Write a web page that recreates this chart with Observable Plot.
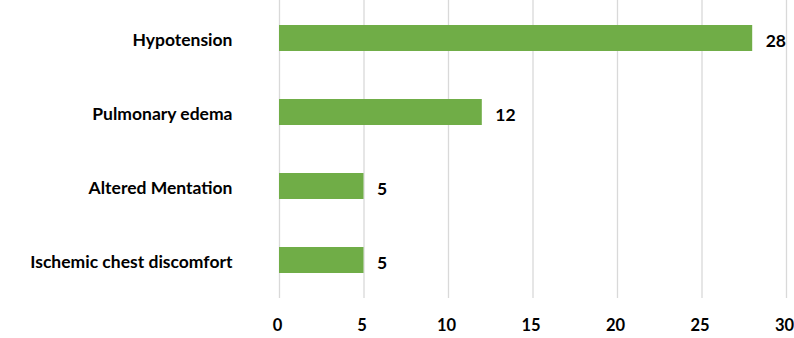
<!DOCTYPE html>
<html>
<head>
<meta charset="utf-8">
<script src="https://cdn.jsdelivr.net/npm/d3@7"></script>
<script src="https://cdn.jsdelivr.net/npm/@observablehq/plot@0.6"></script>
<style>
  html, body { margin: 0; padding: 0; background: #fff; }
  #chart svg { display: block; overflow: visible; }
</style>
</head>
<body>
<div id="chart"></div>
<script>
const categories = ["Hypotension", "Pulmonary edema", "Altered Mentation", "Ischemic chest discomfort"];
const values = [28, 12, 5, 5];
const xTicks = [0, 5, 10, 15, 20, 25, 30];

const data = categories.map((c, i) => ({category: c, value: values[i]}));

const chart = Plot.plot({
  width: 794,
  height: 338,
  marginLeft: 279,
  marginRight: 8,
  marginTop: 0,
  marginBottom: 40,
  style: {fontFamily: "Lato, 'Open Sans', sans-serif", color: "#000", background: "#fff"},
  x: {domain: [0, 30], label: null},
  y: {domain: categories, paddingInner: 0.642, paddingOuter: 0.321, label: null},
  marks: [
    Plot.ruleX(xTicks, {stroke: "#d9d9d9", strokeWidth: 1.3}),
    Plot.barX(data, {x: "value", y: "category", fill: "#70AD47"}),
    Plot.text(data, {x: "value", y: "category", text: d => String(d.value), textAnchor: "start", dx: 13, dy: 3, fontSize: 17.5, fontWeight: "bold", fill: "#000"}),
    Plot.axisX({ticks: xTicks, tickSize: 0, tickPadding: 21, dx: -2, fontSize: 16.5, fontWeight: "bold", label: null, fill: "#000"}),
    Plot.axisY({tickSize: 0, tickPadding: 47, dy: 2, fontSize: 17.5, fontWeight: "bold", label: null, fill: "#000"})
  ]
});
document.getElementById("chart").appendChild(chart);
</script>
</body>
</html>
